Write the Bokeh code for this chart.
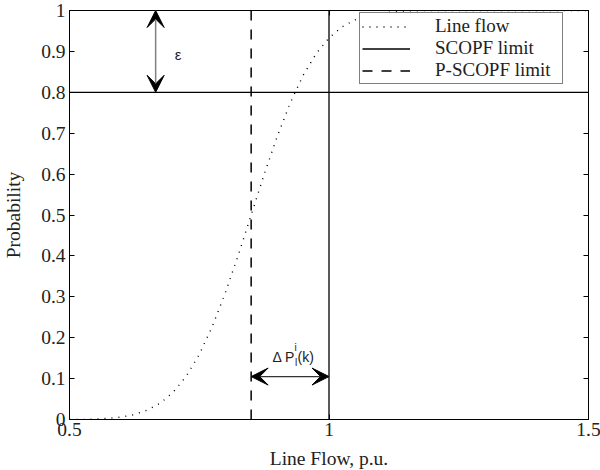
from bokeh.plotting import figure
from bokeh.models import (Range1d, FixedTicker, LinearAxis, Span, Arrow, VeeHead,
                          Legend, LegendItem, Label)
from bokeh.embed import file_html
from bokeh.resources import INLINE

# ---- data ----
flow_x = [0.500, 0.525, 0.550, 0.575, 0.600, 0.625, 0.650, 0.675, 0.700, 0.725,
          0.750, 0.775, 0.800, 0.825, 0.850, 0.875, 0.900, 0.925, 0.950, 0.975,
          1.000, 1.025, 1.050, 1.075, 1.100, 1.125, 1.150, 1.200, 1.300, 1.400, 1.500]
flow_p = [0.000, 0.000, 0.001, 0.003, 0.006, 0.012, 0.023, 0.040, 0.067, 0.106,
          0.159, 0.227, 0.309, 0.401, 0.500, 0.599, 0.691, 0.773, 0.841, 0.894,
          0.933, 0.960, 0.977, 0.988, 0.994, 0.997, 0.999, 1.000, 1.000, 1.000, 1.000]

scopf_limit = 1.0
pscopf_limit = 0.85
prob_level = 0.8
eps_arrow_x = 0.666
dp_arrow_y = 0.105

x_ticks = [0.5, 1.0, 1.5]
x_tick_labels = ["0.5", "1", "1.5"]
y_ticks = [0.0, 0.1, 0.2, 0.3, 0.4, 0.5, 0.6, 0.7, 0.8, 0.9, 1.0]
y_tick_labels = ["0", "0.1", "0.2", "0.3", "0.4", "0.5", "0.6", "0.7", "0.8", "0.9", "1"]

SERIF = "Liberation Serif"
SANS = "Liberation Sans"
FS = "19.5px"

p = figure(frame_width=519, frame_height=409,
           x_range=Range1d(x_ticks[0], x_ticks[-1]), y_range=Range1d(y_ticks[0], y_ticks[-1]),
           output_backend="svg", toolbar_location=None,
           min_border_left=67, min_border_right=14, min_border_top=10, min_border_bottom=51,
           background_fill_color="white", border_fill_color="white")
p.outline_line_color = "black"
p.outline_line_width = 1
p.xgrid.visible = False
p.ygrid.visible = False

def style_axis(ax, ticks, labels, show_labels=True):
    ax.ticker = FixedTicker(ticks=ticks)
    ax.minor_tick_line_color = None
    ax.major_tick_in = 5
    ax.major_tick_out = 0
    ax.major_tick_line_color = "black"
    ax.axis_line_color = "black"
    if show_labels:
        ax.major_label_overrides = dict(zip(ticks, labels))
        ax.major_label_text_font = SERIF
        ax.major_label_text_font_size = FS
        ax.major_label_text_color = "#222222"
        ax.axis_label_text_font = SERIF
        ax.axis_label_text_font_size = FS
        ax.axis_label_text_font_style = "normal"
        ax.axis_label_text_color = "#222222"
    else:
        ax.major_label_overrides = {t: "" for t in ticks}
        ax.major_label_standoff = 0

xax = p.xaxis[0]
yax = p.yaxis[0]
style_axis(xax, x_ticks, x_tick_labels)
style_axis(yax, y_ticks, y_tick_labels)
xax.axis_label = "Line Flow, p.u."
yax.axis_label = "Probability"
xax.major_label_standoff = 3
xax.axis_label_standoff = 9
yax.major_label_standoff = 4
yax.axis_label_standoff = 14

top_ax = LinearAxis()
right_ax = LinearAxis()
style_axis(top_ax, x_ticks, x_tick_labels, show_labels=False)
style_axis(right_ax, y_ticks, y_tick_labels, show_labels=False)
p.add_layout(top_ax, "above")
p.add_layout(right_ax, "right")

# line flow CDF (dotted)
r_flow = p.line(flow_x, flow_p, line_color="black", line_width=1.4, line_dash="1 6")
# SCOPF limit (solid) and P-SCOPF limit (dashed)
r_scopf = p.line([scopf_limit, scopf_limit], [y_ticks[0], y_ticks[-1]],
                 line_color="black", line_width=1.3)
r_pscopf = p.line([pscopf_limit, pscopf_limit], [y_ticks[0], y_ticks[-1]],
                  line_color="black", line_width=1.5, line_dash="10 9")

# probability level line
p.add_layout(Span(location=prob_level, dimension="width", line_color="black", line_width=1.3))

# epsilon arrow
p.add_layout(Arrow(start=VeeHead(size=17, fill_color="black", line_color="black"),
                   end=VeeHead(size=17, fill_color="black", line_color="black"),
                   x_start=eps_arrow_x, y_start=prob_level, x_end=eps_arrow_x, y_end=y_ticks[-1],
                   line_color="#808080", line_width=1.5))
p.add_layout(Label(x=0.703, y=0.893, text="ε", text_font=SANS, text_font_size="15px",
                   text_baseline="middle", text_color="#222222"))

# Delta P arrow
p.add_layout(Arrow(start=VeeHead(size=17, fill_color="black", line_color="black"),
                   end=VeeHead(size=17, fill_color="black", line_color="black"),
                   x_start=pscopf_limit, y_start=dp_arrow_y, x_end=scopf_limit, y_end=dp_arrow_y,
                   line_color="#333333", line_width=1.2))
p.add_layout(Label(x=0.891, y=0.152, text="Δ P", text_font=SANS, text_font_size="14px",
                   text_baseline="alphabetic", text_color="#222222"))
p.add_layout(Label(x=0.9335, y=0.177, text="i", text_font=SANS, text_font_size="10px",
                   text_baseline="alphabetic", text_color="#222222"))
p.add_layout(Label(x=0.9345, y=0.140, text="l", text_font=SANS, text_font_size="10px",
                   text_baseline="alphabetic", text_color="#222222"))
p.add_layout(Label(x=0.9395, y=0.152, text="(k)", text_font=SANS, text_font_size="14px",
                   text_baseline="alphabetic", text_color="#222222"))

legend = Legend(items=[LegendItem(label="Line flow", renderers=[r_flow]),
                       LegendItem(label="SCOPF limit", renderers=[r_scopf]),
                       LegendItem(label="P-SCOPF limit", renderers=[r_pscopf])],
                location=(290, 335), orientation="vertical")
legend.border_line_color = "black"
legend.border_line_width = 1.2
legend.background_fill_color = "white"
legend.background_fill_alpha = 1
legend.label_text_font = SERIF
legend.label_text_font_size = "19px"
legend.label_text_color = "#222222"
legend.glyph_width = 48
legend.glyph_height = 19
legend.label_height = 19
legend.label_standoff = 25
legend.label_width = 125
legend.spacing = 0
legend.padding = 2
legend.margin = 0
p.add_layout(legend)

open("out.html", "w").write(file_html(p, INLINE))
